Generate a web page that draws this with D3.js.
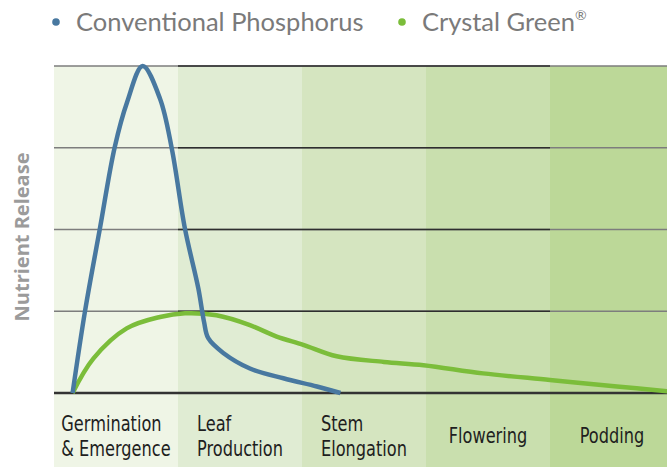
<!DOCTYPE html>
<html>
<head>
<meta charset="utf-8">
<script src="https://cdn.jsdelivr.net/npm/d3@7"></script>
<style>
  body { margin: 0; background: #fff; }
  svg { display: block; }
</style>
</head>
<body>
<div id="vis"></div>
<script>
// frame
const FRAME_WIDTH = 667;
const FRAME_HEIGHT = 467;
const PLOT = {left: 54, right: 674, top: 66, base: 393};

// growth stages (one label line per entry)
const stages = [
  ["Germination", "& Emergence"],
  ["Leaf", "Production"],
  ["Stem", "Elongation"],
  ["Flowering"],
  ["Podding"]
];

// series, x in stage units (0..5), y in gridline units (0..4)
const convX = [0.15, 0.25, 0.37, 0.49, 0.59, 0.715, 0.855, 0.95, 1.056, 1.164, 1.21, 1.244, 1.365, 1.58, 1.85, 2.12, 2.31];
const convY = [0, 1.0, 2.01, 3.01, 3.56, 4.0, 3.6, 2.99, 2.01, 1.28, 0.87, 0.67, 0.49, 0.30, 0.18, 0.08, 0.0];

const greenX = [0.15, 0.317, 0.586, 0.855, 1.056, 1.31, 1.58, 1.796, 2.01, 2.28, 2.66, 2.98, 3.46, 4.0, 4.54, 4.95];
const greenY = [0, 0.42, 0.79, 0.93, 0.975, 0.95, 0.83, 0.69, 0.59, 0.45, 0.38, 0.34, 0.24, 0.16, 0.08, 0.02];

const gridTicks = [1, 2, 3, 4];
const darkGridBands = [1, 2, 3];
const legendNames = ["Conventional Phosphorus", "Crystal Green"];

// styles
const BAND_COLORS = ["#eff5e6", "#e0ecd3", "#d5e5c0", "#c9dfae", "#bcd898"];
const BLUE = "#4878a0";
const GREEN = "#7bbd3a";

const svg = d3.select("#vis")
  .append("svg")
    .attr("width", FRAME_WIDTH)
    .attr("height", FRAME_HEIGHT);

// scales
const X_BAND = d3.scaleBand()
  .domain(d3.range(stages.length))
  .range([PLOT.left, PLOT.right]);

const X_SCALE = d3.scaleLinear()
  .domain([0, stages.length])
  .range([PLOT.left, PLOT.right]);

const Y_SCALE = d3.scaleLinear()
  .domain([0, 4])
  .range([PLOT.base, PLOT.top]);

// stage bands (run down through the label area)
svg.selectAll(".band")
  .data(d3.range(stages.length))
  .enter()
  .append("rect")
    .attr("class", "band")
    .attr("x", (d) => X_BAND(d))
    .attr("y", PLOT.top)
    .attr("width", X_BAND.bandwidth())
    .attr("height", FRAME_HEIGHT - PLOT.top)
    .attr("fill", (d) => BAND_COLORS[d]);

// gridlines: grey across the whole plot, dark over the middle bands
svg.selectAll(".grid")
  .data(gridTicks)
  .enter()
  .append("line")
    .attr("class", "grid")
    .attr("x1", PLOT.left)
    .attr("x2", FRAME_WIDTH)
    .attr("y1", (d) => Y_SCALE(d))
    .attr("y2", (d) => Y_SCALE(d))
    .attr("stroke", "#7d7d7d")
    .attr("stroke-width", 1.6);

const darkSegs = [];
gridTicks.forEach((t) => darkGridBands.forEach((b) => darkSegs.push({t: t, b: b})));
svg.selectAll(".gridDark")
  .data(darkSegs)
  .enter()
  .append("line")
    .attr("class", "gridDark")
    .attr("x1", (d) => X_BAND(d.b))
    .attr("x2", (d) => X_BAND(d.b) + X_BAND.bandwidth())
    .attr("y1", (d) => Y_SCALE(d.t))
    .attr("y2", (d) => Y_SCALE(d.t))
    .attr("stroke", "#2e2e2e")
    .attr("stroke-width", 1.5);

// baseline
svg.append("line")
  .attr("x1", PLOT.left)
  .attr("x2", FRAME_WIDTH)
  .attr("y1", Y_SCALE(0))
  .attr("y2", Y_SCALE(0))
  .attr("stroke", "#333")
  .attr("stroke-width", 2.5);

// curves
const line = d3.line()
  .x((d) => X_SCALE(d[0]))
  .y((d) => Y_SCALE(d[1]))
  .curve(d3.curveCatmullRom.alpha(0.5));

svg.append("path")
  .datum(d3.zip(greenX, greenY))
  .attr("d", line)
  .attr("fill", "none")
  .attr("stroke", GREEN)
  .attr("stroke-width", 4.5);

svg.append("path")
  .datum(d3.zip(convX, convY))
  .attr("d", line)
  .attr("fill", "none")
  .attr("stroke", BLUE)
  .attr("stroke-width", 4.5)
  .attr("stroke-linejoin", "round");

// stage labels: left-aligned block centred in each band, squeezed to a condensed look
const SQUEEZE = 0.77;
stages.forEach((lines, i) => {
  const g = svg.append("g");
  const lh = 25;
  const y0 = lines.length == 1 ? 443 : 431;
  const texts = g.selectAll("text")
    .data(lines)
    .enter()
    .append("text")
      .attr("y", (d, j) => y0 + j * lh)
      .attr("font-family", "'DejaVu Sans', sans-serif")
      .attr("font-size", "21px")
      .attr("fill", "#1e1e1e")
      .text((d) => d);
  let w = 0;
  texts.each(function() { w = Math.max(w, this.getComputedTextLength()); });
  const cx = X_BAND(i) + X_BAND.bandwidth() / 2;
  g.attr("transform", "translate(" + cx + ",0) scale(" + SQUEEZE + ",1)");
  texts.attr("x", -w / 2);
});

// y axis title
svg.append("text")
  .attr("transform", "translate(29,237) rotate(-90)")
  .attr("text-anchor", "middle")
  .attr("font-family", "'Open Sans', sans-serif")
  .attr("font-weight", "bold")
  .attr("font-size", "20px")
  .attr("fill", "#9b9b9b")
  .text("Nutrient Release");

// legend
const legendX = [56, 402];
const legendColors = [BLUE, GREEN];
legendNames.forEach((name, i) => {
  svg.append("circle")
    .attr("cx", legendX[i])
    .attr("cy", 22)
    .attr("r", 3.8)
    .attr("fill", legendColors[i]);
  const t = svg.append("text")
    .attr("x", legendX[i] + 20)
    .attr("y", 31)
    .attr("font-family", "Lato, sans-serif")
    .attr("font-size", "25.5px")
    .attr("fill", "#7a7a7a")
    .text(name);
  if (i == 1) {
    t.append("tspan")
      .attr("font-size", "14px")
      .attr("dy", -11)
      .text("®");
  }
});
</script>
</body>
</html>
